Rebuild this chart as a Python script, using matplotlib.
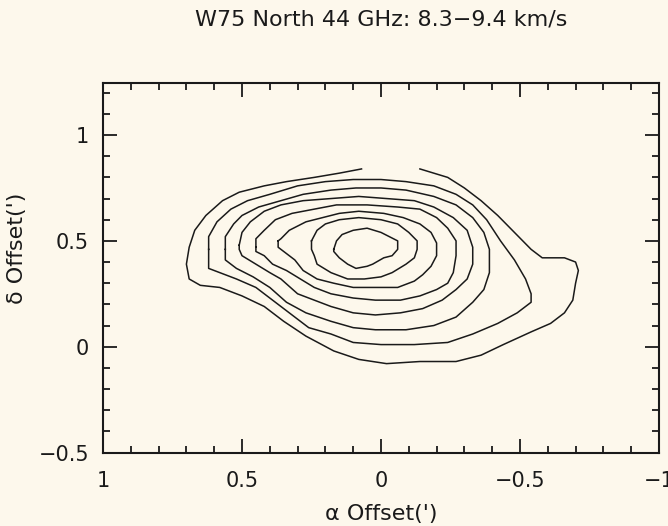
import matplotlib
matplotlib.use('Agg')
import matplotlib.pyplot as plt
import numpy as np
from matplotlib.ticker import FuncFormatter, MultipleLocator

TITLE = 'W75 North 44 GHz: 8.3\u22129.4 km/s'
X_LABEL = '\u03b1 Offset(\')'
Y_LABEL = '\u03b4 Offset(\')'

X_TICKS = [1, 0.5, 0, -0.5, -1]
Y_TICKS = [-0.5, 0, 0.5, 1]

# contour lines, outermost first (offsets in arcmin)
# the outer one is cut at the top edge of the map, so it stays open
c1_x = [0.07, 0.15, 0.24, 0.34, 0.42, 0.51, 0.57, 0.63, 0.67, 0.69, 0.70, 0.69, 0.65, 0.58, 0.50, 0.42, 0.35,
        0.27, 0.17, 0.08, -0.02, -0.14, -0.27, -0.36, -0.44, -0.54, -0.61, -0.66, -0.69, -0.70, -0.71, -0.70,
        -0.66, -0.58, -0.54, -0.48, -0.42, -0.36, -0.30, -0.24, -0.19, -0.14]
c1_y = [0.84, 0.82, 0.80, 0.78, 0.76, 0.73, 0.69, 0.62, 0.55, 0.47, 0.39, 0.32, 0.29, 0.28, 0.24, 0.19, 0.12,
        0.05, -0.02, -0.06, -0.08, -0.07, -0.07, -0.04, 0.01, 0.07, 0.11, 0.16, 0.22, 0.30, 0.36, 0.40,
        0.42, 0.42, 0.46, 0.54, 0.62, 0.69, 0.75, 0.80, 0.82, 0.84]

c2_x = [0.62, 0.62, 0.59, 0.54, 0.48, 0.40, 0.30, 0.20, 0.10, 0.00, -0.09, -0.19, -0.27, -0.33, -0.38, -0.43,
        -0.48, -0.52, -0.54, -0.54, -0.49, -0.42, -0.33, -0.24, -0.12, 0.00, 0.10, 0.18, 0.26, 0.33, 0.39,
        0.45, 0.52, 0.58, 0.62, 0.62]
c2_y = [0.46, 0.52, 0.59, 0.65, 0.69, 0.72, 0.76, 0.78, 0.79, 0.79, 0.78, 0.76, 0.72, 0.67, 0.60, 0.50,
        0.41, 0.32, 0.25, 0.21, 0.16, 0.11, 0.06, 0.02, 0.01, 0.01, 0.02, 0.06, 0.09, 0.16, 0.22,
        0.28, 0.32, 0.35, 0.37, 0.41]

c3_x = [0.56, 0.56, 0.53, 0.50, 0.44, 0.36, 0.28, 0.18, 0.09, 0.00, -0.09, -0.19, -0.27, -0.33, -0.37, -0.39,
        -0.39, -0.37, -0.33, -0.27, -0.19, -0.09, 0.02, 0.10, 0.18, 0.27, 0.34, 0.40, 0.46, 0.52, 0.56]
c3_y = [0.46, 0.52, 0.58, 0.62, 0.66, 0.69, 0.72, 0.74, 0.75, 0.75, 0.74, 0.71, 0.67, 0.61, 0.54, 0.46,
        0.35, 0.27, 0.21, 0.14, 0.10, 0.08, 0.08, 0.09, 0.12, 0.16, 0.21, 0.28, 0.33, 0.37, 0.41]

c4_x = [0.51, 0.50, 0.47, 0.42, 0.36, 0.28, 0.18, 0.08, -0.02, -0.12, -0.19, -0.26, -0.31, -0.33, -0.33,
        -0.31, -0.27, -0.22, -0.15, -0.07, 0.02, 0.10, 0.18, 0.24, 0.30, 0.36, 0.40, 0.45, 0.50, 0.51]
c4_y = [0.48, 0.54, 0.59, 0.64, 0.67, 0.69, 0.70, 0.71, 0.70, 0.69, 0.66, 0.61, 0.55, 0.47, 0.39,
        0.32, 0.27, 0.22, 0.18, 0.16, 0.15, 0.16, 0.19, 0.22, 0.25, 0.32, 0.35, 0.39, 0.43, 0.46]

c5_x = [0.45, 0.45, 0.42, 0.38, 0.32, 0.24, 0.16, 0.05, -0.06, -0.14, -0.20, -0.24, -0.27, -0.27, -0.26,
        -0.24, -0.20, -0.14, -0.07, 0.02, 0.10, 0.18, 0.24, 0.29, 0.34, 0.39, 0.42, 0.45]
c5_y = [0.47, 0.51, 0.55, 0.60, 0.63, 0.65, 0.67, 0.67, 0.66, 0.65, 0.61, 0.56, 0.50, 0.43, 0.35,
        0.30, 0.27, 0.24, 0.22, 0.22, 0.23, 0.25, 0.28, 0.32, 0.36, 0.39, 0.43, 0.45]

c6_x = [0.37, 0.36, 0.33, 0.27, 0.21, 0.15, 0.08, -0.01, -0.08, -0.14, -0.18, -0.20, -0.20, -0.18, -0.15,
        -0.12, -0.06, 0.03, 0.10, 0.17, 0.23, 0.28, 0.31, 0.35, 0.37]
c6_y = [0.50, 0.51, 0.55, 0.59, 0.61, 0.63, 0.64, 0.63, 0.61, 0.58, 0.54, 0.49, 0.43, 0.38, 0.34,
        0.31, 0.28, 0.28, 0.28, 0.30, 0.32, 0.36, 0.41, 0.45, 0.47]

c7_x = [0.25, 0.23, 0.20, 0.15, 0.08, 0.00, -0.06, -0.10, -0.13, -0.13, -0.12, -0.09, -0.04, 0.00, 0.06,
        0.12, 0.18, 0.23, 0.24, 0.25]
c7_y = [0.50, 0.55, 0.58, 0.60, 0.61, 0.60, 0.58, 0.54, 0.50, 0.46, 0.42, 0.39, 0.35, 0.33, 0.32,
        0.32, 0.35, 0.39, 0.43, 0.46]

c8_x = [0.17, 0.16, 0.14, 0.10, 0.05, 0.00, -0.03, -0.06, -0.06, -0.04, -0.01, 0.03, 0.05, 0.09, 0.12, 0.15, 0.17]
c8_y = [0.46, 0.50, 0.53, 0.55, 0.56, 0.54, 0.52, 0.50, 0.46, 0.43, 0.42, 0.39, 0.38, 0.37, 0.39, 0.42, 0.45]

BG = '#fdf8ec'
INK = '#1a1a1a'


def fmt_tick(v, _pos):
    s = '{:g}'.format(v)
    return s.replace('-', '\u2212')


def draw_contour(ax, xs, ys, closed=True):
    xs = list(xs)
    ys = list(ys)
    if closed:
        xs.append(xs[0])
        ys.append(ys[0])
    ax.plot(xs, ys, color=INK, linewidth=1.1, solid_joinstyle='round')


def main():
    plt.rcParams['font.family'] = ['DejaVu Sans']
    fig = plt.figure(figsize=(6.68, 5.26), dpi=100, facecolor=BG)
    ax = fig.add_axes([0.1542, 0.1397, 0.8323, 0.7025], facecolor=BG)

    draw_contour(ax, c1_x, c1_y, closed=False)
    for xs, ys in [(c2_x, c2_y), (c3_x, c3_y), (c4_x, c4_y), (c5_x, c5_y),
                   (c6_x, c6_y), (c7_x, c7_y), (c8_x, c8_y)]:
        draw_contour(ax, xs, ys)

    ax.set_xlim(1, -1)
    ax.set_ylim(-0.5, 1.246)
    ax.set_xticks(X_TICKS)
    ax.set_yticks(Y_TICKS)
    ax.xaxis.set_minor_locator(MultipleLocator(0.1))
    ax.yaxis.set_minor_locator(MultipleLocator(0.1))
    ax.xaxis.set_major_formatter(FuncFormatter(fmt_tick))
    ax.yaxis.set_major_formatter(FuncFormatter(fmt_tick))

    ax.tick_params(which='both', direction='in', top=True, right=True, color=INK, width=1.3,
                   labelsize=15, labelcolor=INK)
    ax.tick_params(which='major', length=10)
    ax.tick_params(which='minor', length=5)
    ax.tick_params(axis='x', pad=13)
    ax.tick_params(axis='y', pad=10)
    for sp in ax.spines.values():
        sp.set_linewidth(1.5)
        sp.set_color(INK)

    ax.set_xlabel(X_LABEL, fontsize=16, color=INK)
    ax.set_ylabel(Y_LABEL, fontsize=16, color=INK)
    ax.xaxis.set_label_coords(0.5, -0.166)
    ax.xaxis.label.set_va('center')
    ax.yaxis.set_label_coords(-0.155, 0.553)
    ax.yaxis.label.set_va('center')

    fig.text(0.5704, 0.962, TITLE, ha='center', va='center', fontsize=16, color=INK)

    fig.savefig('out.png', dpi=100, facecolor=BG)


if __name__ == '__main__':
    main()
